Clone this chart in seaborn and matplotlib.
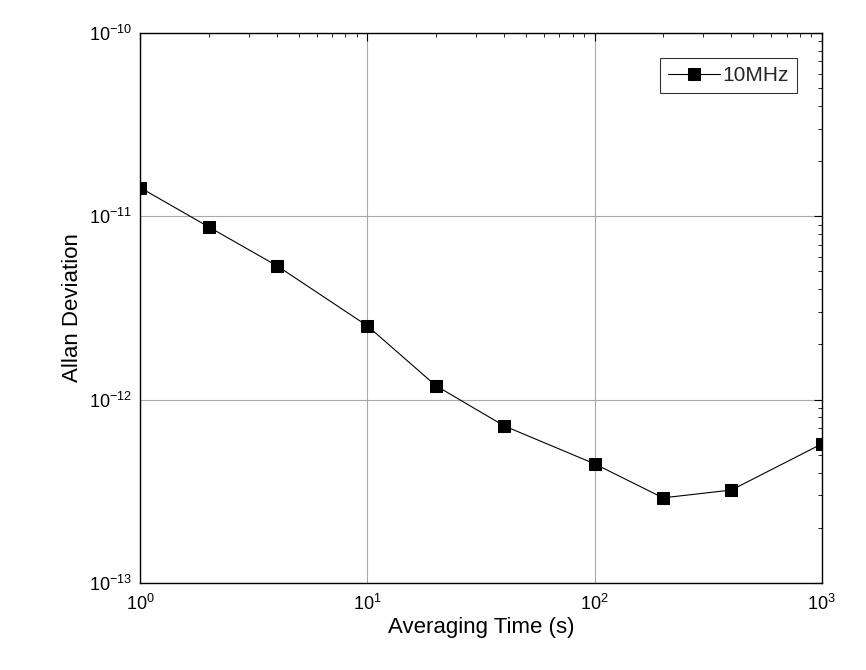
import matplotlib
matplotlib.use("Agg")
import matplotlib.pyplot as plt
import seaborn as sns
import pandas as pd

tau = [1, 2, 4, 10, 20, 40, 100, 200, 400, 1000]
adev = [1.43e-11, 8.74e-12, 5.36e-12, 2.52e-12, 1.19e-12, 7.18e-13, 4.46e-13, 2.91e-13, 3.21e-13, 5.73e-13]
df = pd.DataFrame({"tau": tau, "adev": adev})

sns.set_style("white")
plt.rcParams['font.family'] = ['Liberation Sans', 'DejaVu Sans']
plt.rcParams['mathtext.fontset'] = 'custom'
plt.rcParams['mathtext.rm'] = 'Liberation Sans'

fig = plt.figure(figsize=(8.66, 6.70), dpi=100)
ax = fig.add_axes([0.162, 0.130, 0.787, 0.821])
sns.lineplot(data=df, x="tau", y="adev", ax=ax, color="black", lw=0.8,
             marker="s", markersize=9, markeredgecolor="black", label="10MHz")
ax.set_xscale("log"); ax.set_yscale("log")
ax.set_xlim(1, 1000); ax.set_ylim(1e-13, 1e-10)
ax.grid(True, which="major", color="#aaaaaa", lw=0.8)
ax.tick_params(which="both", direction="in", top=True, right=True, labelsize=13,
               colors="black")
ax.tick_params(axis="x", pad=8)
ax.tick_params(axis="y", pad=6)
ax.tick_params(which="major", length=6)
ax.tick_params(which="minor", length=3)
for s in ax.spines.values():
    s.set_color("black"); s.set_linewidth(1)
ax.set_xlabel("Averaging Time (s)", fontsize=16, color="black", labelpad=2)
ax.set_ylabel("Allan Deviation", fontsize=16, color="black")
leg = ax.legend(loc="upper right", fontsize=15, handlelength=2.5, handletextpad=0.1,
                fancybox=False, edgecolor="black", borderaxespad=1.2)
leg.get_frame().set_linewidth(0.8)
fig.savefig("out.png", dpi=100)
